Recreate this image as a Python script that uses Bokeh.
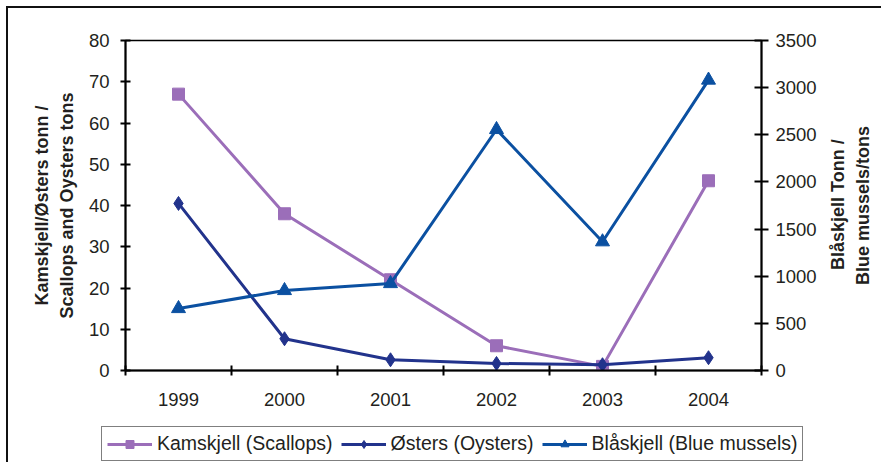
from bokeh.plotting import figure
from bokeh.models import (Range1d, LinearAxis, FixedTicker, Legend, LegendItem, Div)
from bokeh.layouts import row, column
from bokeh.embed import file_html
from bokeh.resources import INLINE

# ---- data ----
years = ["1999", "2000", "2001", "2002", "2003", "2004"]
scallops = [67, 38, 22, 6, 1, 46]            # Kamskjell, tons (left axis)
oysters = [40.5, 7.7, 2.6, 1.7, 1.4, 3.1]    # Østers, tons (left axis)
mussels = [657, 848, 922, 2556, 1365, 3080]  # Blåskjell, tons (right axis)
left_ticks = [0, 10, 20, 30, 40, 50, 60, 70, 80]
right_ticks = [0, 500, 1000, 1500, 2000, 2500, 3000, 3500]

names = ["Kamskjell (Scallops)", "Østers (Oysters)", "Blåskjell (Blue mussels)"]
left_label = ["Kamskjell/Østers tonn /", "Scallops and Oysters tons"]
right_label = ["Blåskjell Tonn /", "Blue mussels/tons"]

# ---- styles ----
FONT = "Liberation Sans"
TXT = "#231f20"
C_SC = "#9b6eb9"
C_OY = "#22338c"
C_MU = "#0b50a1"
MARKERS = [("square", 12), ("diamond", 14), ("triangle", 14)]
COLORS = [C_SC, C_OY, C_MU]
SERIES = [scallops, oysters, mussels]

xs = [i + 0.5 for i in range(len(years))]

p = figure(width=815, height=407, output_backend="svg", toolbar_location=None,
           x_range=Range1d(0, len(years)), y_range=Range1d(left_ticks[0], left_ticks[-1]),
           min_border_left=117, min_border_right=62, min_border_top=32, min_border_bottom=45)
p.extra_y_ranges = {"mus": Range1d(right_ticks[0], right_ticks[-1])}
p.xgrid.visible = False
p.ygrid.visible = False
p.background_fill_color = "white"
p.border_fill_color = "white"
p.outline_line_color = "black"
p.outline_line_width = 1.5

# x axis (labels at category centres, ticks on category boundaries)
xa = p.xaxis[0]
xa.ticker = FixedTicker(ticks=xs, minor_ticks=list(range(len(years) + 1)))
xa.major_label_overrides = {x: y for x, y in zip(xs, years)}
xa.major_tick_in = 0
xa.major_tick_out = 0
xa.minor_tick_in = 5
xa.minor_tick_out = 5
xa.minor_tick_line_color = "black"
xa.minor_tick_line_width = 2

# left axis
ya = p.yaxis[0]
ya.ticker = FixedTicker(ticks=left_ticks)
ya.major_tick_in = 5
ya.major_tick_out = 5
ya.minor_tick_line_color = None
ya.axis_label = "\n".join(left_label)
ya.axis_label_text_font = FONT
ya.axis_label_text_font_size = "18px"
ya.axis_label_text_font_style = "bold"
ya.axis_label_text_color = TXT
ya.axis_label_text_line_height = 1.25
ya.axis_label_standoff = 9

# right axis
ra = LinearAxis(y_range_name="mus", ticker=FixedTicker(ticks=right_ticks))
ra.major_tick_in = 7
ra.major_tick_out = 7
ra.minor_tick_line_color = None
p.add_layout(ra, "right")

for ax, st in ((xa, 17), (ya, 11), (ra, 7)):
    ax.axis_line_color = "black"
    ax.axis_line_width = 2
    ax.major_tick_line_color = "black"
    ax.major_tick_line_width = 2
    ax.major_label_text_font = FONT
    ax.major_label_text_font_size = "18.5px"
    ax.major_label_text_color = TXT
    ax.major_label_standoff = st

# series
for vals, col, (mk, sz), rng in zip(SERIES, COLORS, MARKERS, ["default", "default", "mus"]):
    p.line(xs, vals, line_color=col, line_width=3, y_range_name=rng)
    p.scatter(xs, vals, marker=mk, size=sz, fill_color=col, line_color=col, y_range_name=rng)

# right-hand axis title (reads bottom-to-top, like the left one)
title_html = (
    '<div style="writing-mode: vertical-rl; transform: rotate(180deg); '
    'height: 394px; width: 50px; margin-left: 3px; text-align: center; '
    'font-family: \'Liberation Sans\'; font-weight: bold; font-size: 18px; '
    'line-height: 25px; color: %s; white-space: nowrap;">%s</div>'
    % (TXT, "<br>".join(right_label))
)
div = Div(text=title_html, width=58, height=407, margin=0, styles={"background": "white"})

# legend strip: a frame-only figure; its series sit outside the visible x range,
# so only the legend entries show
lg = figure(width=873, height=47, output_backend="svg", toolbar_location=None,
            x_range=Range1d(-2, -1), y_range=Range1d(0, 1), x_axis_type=None,
            y_axis_type=None, min_border=0)
lg.outline_line_color = None
lg.xgrid.visible = False
lg.ygrid.visible = False
lg.background_fill_color = "white"
items = []
for name, col, (mk, sz), vals in zip(names, COLORS, MARKERS, SERIES):
    rl = lg.line(xs, vals, line_color=col, line_width=3)
    rm = lg.scatter(xs, vals, marker=mk, size=sz, fill_color=col, line_color=col)
    items.append(LegendItem(label=name, renderers=[rl, rm]))
legend = Legend(items=items, orientation="horizontal", location=(93, 1))
legend.label_text_font = FONT
legend.label_text_font_size = "19.5px"
legend.label_text_color = TXT
legend.border_line_color = "black"
legend.border_line_width = 1.5
legend.background_fill_color = "white"
legend.background_fill_alpha = 1
legend.glyph_width = 45
legend.glyph_height = 20
legend.label_standoff = 5
legend.spacing = 8
legend.padding = 5
legend.margin = 0
lg.add_layout(legend, "center")

lay = column(row(p, div, spacing=0), lg, spacing=0)
lay.styles = {"border-left": "2px solid #111", "border-top": "2px solid #111",
              "margin-left": "6px", "margin-top": "6px", "background": "white"}

open("out.html", "w").write(file_html(lay, INLINE))
